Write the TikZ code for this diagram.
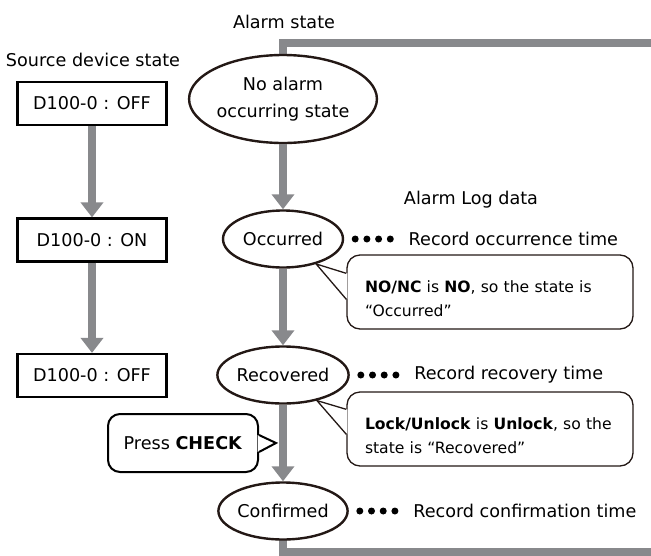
\documentclass[tikz,border=0pt]{standalone}
\usepackage{fontspec}
\setmainfont{DejaVu Sans}
\usetikzlibrary{arrows.meta, positioning, shapes.geometric}

\definecolor{flowgray}{HTML}{88898C}
\definecolor{edgedark}{HTML}{231815}

\begin{document}
\begin{tikzpicture}[
    x=1pt, y=-1pt,
    font=\fontsize{17.6}{20}\selectfont,
    devbox/.style={rectangle, draw=black, line width=2.2pt, minimum width=149pt, minimum height=43pt, inner sep=0pt},
    statenode/.style={ellipse, draw=edgedark, line width=2.4pt, minimum width=120pt, minimum height=57pt, inner sep=0pt, fill=white, align=center},
    note/.style={rectangle, rounded corners=13pt, draw=edgedark, line width=1.3pt, fill=white, minimum width=286pt, minimum height=74pt, text width=250pt, inner xsep=18pt, align=left, font=\fontsize{15.6}{24.5}\selectfont},
    pressbox/.style={rectangle, rounded corners=12pt, draw=black, line width=2pt, fill=white, minimum width=150pt, minimum height=58pt},
    flow/.style={draw=flowgray, line width=8pt},
    arrow/.style={flow, -{Triangle[length=15pt, width=22pt]}},
    dots/.style={line width=7pt, line cap=round, dash pattern=on 0pt off 11.7pt, shorten <=11pt, shorten >=14pt},
    ptr/.style={draw=edgedark, line width=1.3pt}
]
\useasboundingbox (0,0) rectangle (651,555);

\node (srclbl) at (93,60) {Source device state};
\node (almlbl) at (284,22) {Alarm state};
\node (loglbl) at (471,200) {Alarm Log data};

\node[devbox] (dev1) at (92,103.5) {D100-0 : OFF};
\node[devbox] (dev2) at (92,240) {D100-0 : ON};
\node[devbox] (dev3) at (92,375.5) {D100-0 : OFF};

\coordinate (topend) at (660,43);
\coordinate (botend) at (660,552);
\draw[flow] (283,99) |- (topend);
\draw[flow] (283,511) |- (botend);

\node[statenode, minimum width=180pt, minimum height=88pt, font=\fontsize{17.6}{27}\selectfont] (noal) at (283,99) {No alarm\\occurring state};
\node[statenode] (occ) at (283,239) {Occurred};
\node[statenode] (rec) at (283,375) {Recovered};
\node[statenode] (conf) at (283,511) {Confirmed};

\node[right=61pt of occ] (recocc) {Record occurrence time};
\node[right=61pt of rec] (recrec) {Record recovery time};
\node[right=61pt of conf] (recconf) {Record confirmation time};

\draw[arrow] (dev1) -- (dev2);
\draw[arrow] (dev2) -- (dev3);
\draw[arrow] (noal) -- (occ);
\draw[arrow] (occ) -- (rec);
\draw[arrow] (rec) -- (conf);

\draw[dots] (occ.east) -- (recocc.west);
\draw[dots] (rec.east) -- (recrec.west);
\draw[dots] (conf.east) -- (recconf.west);

\node[note] (note1) at (490,292) {\rule{0pt}{25pt}\textbf{NO/NC} is \textbf{NO}, so the state is\\``Occurred''};
\node[note] (note2) at (490,429) {\rule{0pt}{25pt}\textbf{Lock/Unlock} is \textbf{Unlock}, so the\\state is ``Recovered''};
\node[pressbox] (chk) at (183,443) {Press \textbf{CHECK}};

\fill[white] ([shift={(1pt,-19pt)}]note1.north west) -- (occ.-37) -- ([shift={(1pt,-45pt)}]note1.north west) -- cycle;
\draw[ptr] ([yshift=-19pt]note1.north west) -- (occ.-37) -- ([yshift=-45pt]note1.north west);
\fill[white] ([shift={(1pt,-18pt)}]note2.north west) -- (rec.-37) -- ([shift={(1pt,-43pt)}]note2.north west) -- cycle;
\draw[ptr] ([yshift=-18pt]note2.north west) -- (rec.-37) -- ([yshift=-43pt]note2.north west);
\fill[white] ([shift={(-1.5pt,8pt)}]chk.east) -- ([xshift=17pt]chk.east) -- ([shift={(-1.5pt,-9pt)}]chk.east) -- cycle;
\draw[line width=2pt] ([yshift=8pt]chk.east) -- ([xshift=17pt]chk.east) -- ([yshift=-9pt]chk.east);

\end{tikzpicture}
\end{document}
